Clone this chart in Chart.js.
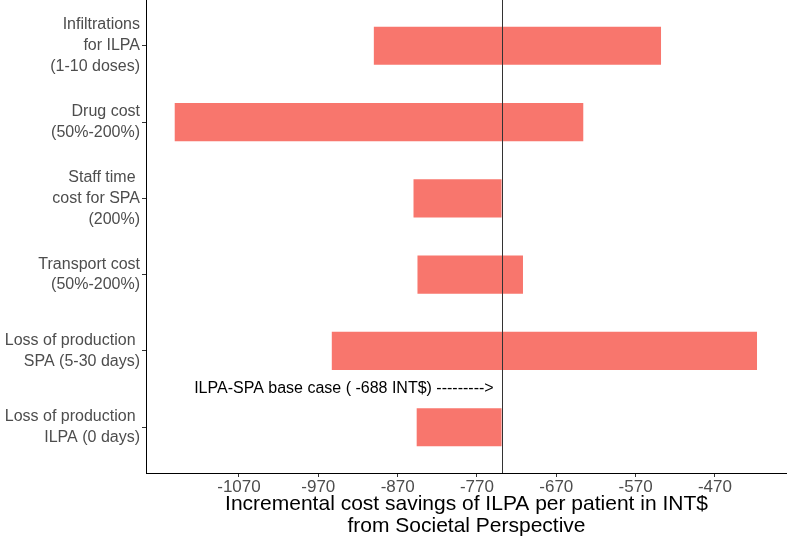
<!DOCTYPE html>
<html lang="en">
<head>
  <meta charset="UTF-8">
  <title>Tornado - ILPA vs SPA</title>
  <script src="https://cdn.jsdelivr.net/npm/chart.js"></script>
  <style>
    html, body { margin: 0; padding: 0; background: #fff; }
    #wrap { width: 787px; height: 537px; }
  </style>
</head>
<body>
  <div id="wrap"><canvas id="tornado"></canvas></div>

  <script>
    // parameters (top to bottom)
    const categories = [
      ["Infiltrations", "for ILPA", "(1-10 doses)"],
      ["Drug cost", "(50%-200%)"],
      ["Staff time ", "cost for SPA", "(200%)"],
      ["Transport cost", "(50%-200%)"],
      ["Loss of production ", "SPA (5-30 days)"],
      ["Loss of production ", "ILPA (0 days)"]
    ];
    // low / high end of each bar
    const lowValues  = [-900, -1151, -850, -845, -953, -846];
    const highValues = [-538, -636, -739, -712, -417, -739];
    const xTicks = [-1070, -970, -870, -770, -670, -570, -470];
    const baseCase = -739;
    const baseLabel = "ILPA-SPA base case ( -688 INT$) --------->";
    const xTitle = ["Incremental cost savings of ILPA per patient in INT$", "from Societal Perspective"];

    const FONT = '"Liberation Sans", Arial, Helvetica, sans-serif';
    const xMin = -1187.2, xMax = -379.2;

    // vertical base case line + the arrow label
    const baseLinePlugin = {
      id: "baseLine",
      afterDatasetsDraw(chart) {
        const { ctx, chartArea, scales } = chart;
        const x = Math.round(scales.x.getPixelForValue(baseCase)) + 0.5;
        ctx.save();
        ctx.strokeStyle = "#333";
        ctx.lineWidth = 1;
        ctx.beginPath();
        ctx.moveTo(x, chartArea.top);
        ctx.lineTo(x, chartArea.bottom);
        ctx.stroke();

        ctx.font = "16px " + FONT;
        ctx.fillStyle = "#000";
        ctx.textAlign = "right";
        ctx.textBaseline = "middle";
        ctx.fillText(baseLabel, scales.x.getPixelForValue(baseCase - 10), scales.y.getPixelForValue(4.5));
        ctx.restore();
      }
    };

    const ctx = document.getElementById("tornado").getContext("2d");
    new Chart(ctx, {
      type: "bar",
      data: {
        datasets: [{
          data: categories.map((c, i) => ({ y: i, x: [lowValues[i], highValues[i]] })),
          backgroundColor: "#F8766D",
          borderWidth: 0,
          barPercentage: 0.5,
          categoryPercentage: 1
        }]
      },
      options: {
        indexAxis: "y",
        responsive: true,
        maintainAspectRatio: false,
        animation: false,
        layout: { padding: 0 },
        plugins: {
          legend: { display: false },
          tooltip: { enabled: false }
        },
        scales: {
          x: {
            type: "linear",
            min: xMin,
            max: xMax,
            afterBuildTicks: s => { s.ticks = xTicks.map(v => ({ value: v })); },
            ticks: {
              callback: v => String(v),
              color: "#4d4d4d",
              font: { size: 17, family: FONT },
              padding: 0,
              maxRotation: 0,
              autoSkip: false
            },
            grid: { drawOnChartArea: false, drawTicks: true, tickLength: 4, color: "#333" },
            border: { display: true, color: "#000", width: 1 },
            title: {
              display: true,
              text: xTitle,
              color: "#000",
              font: { size: 21, family: FONT, lineHeight: 1.05 },
              padding: { top: 0, bottom: 0 }
            },
            afterFit: s => { s.height = 64; s.paddingLeft = 0; s.paddingRight = 0; }
          },
          y: {
            type: "linear",
            reverse: true,
            offset: false,
            min: -0.6,
            max: 5.6,
            afterBuildTicks: s => { s.ticks = categories.map((c, i) => ({ value: i })); },
            ticks: {
              callback: v => categories[v],
              color: "#4d4d4d",
              font: { size: 16, family: FONT, lineHeight: 1.3 },
              padding: 2,
              autoSkip: false
            },
            grid: { offset: false, drawOnChartArea: false, drawTicks: true, tickLength: 4, color: "#333" },
            border: { display: true, color: "#000", width: 1 },
            afterFit: s => { s.width = 146; s.paddingTop = 0; s.paddingBottom = 0; }
          }
        }
      },
      plugins: [baseLinePlugin]
    });
  </script>
</body>
</html>
